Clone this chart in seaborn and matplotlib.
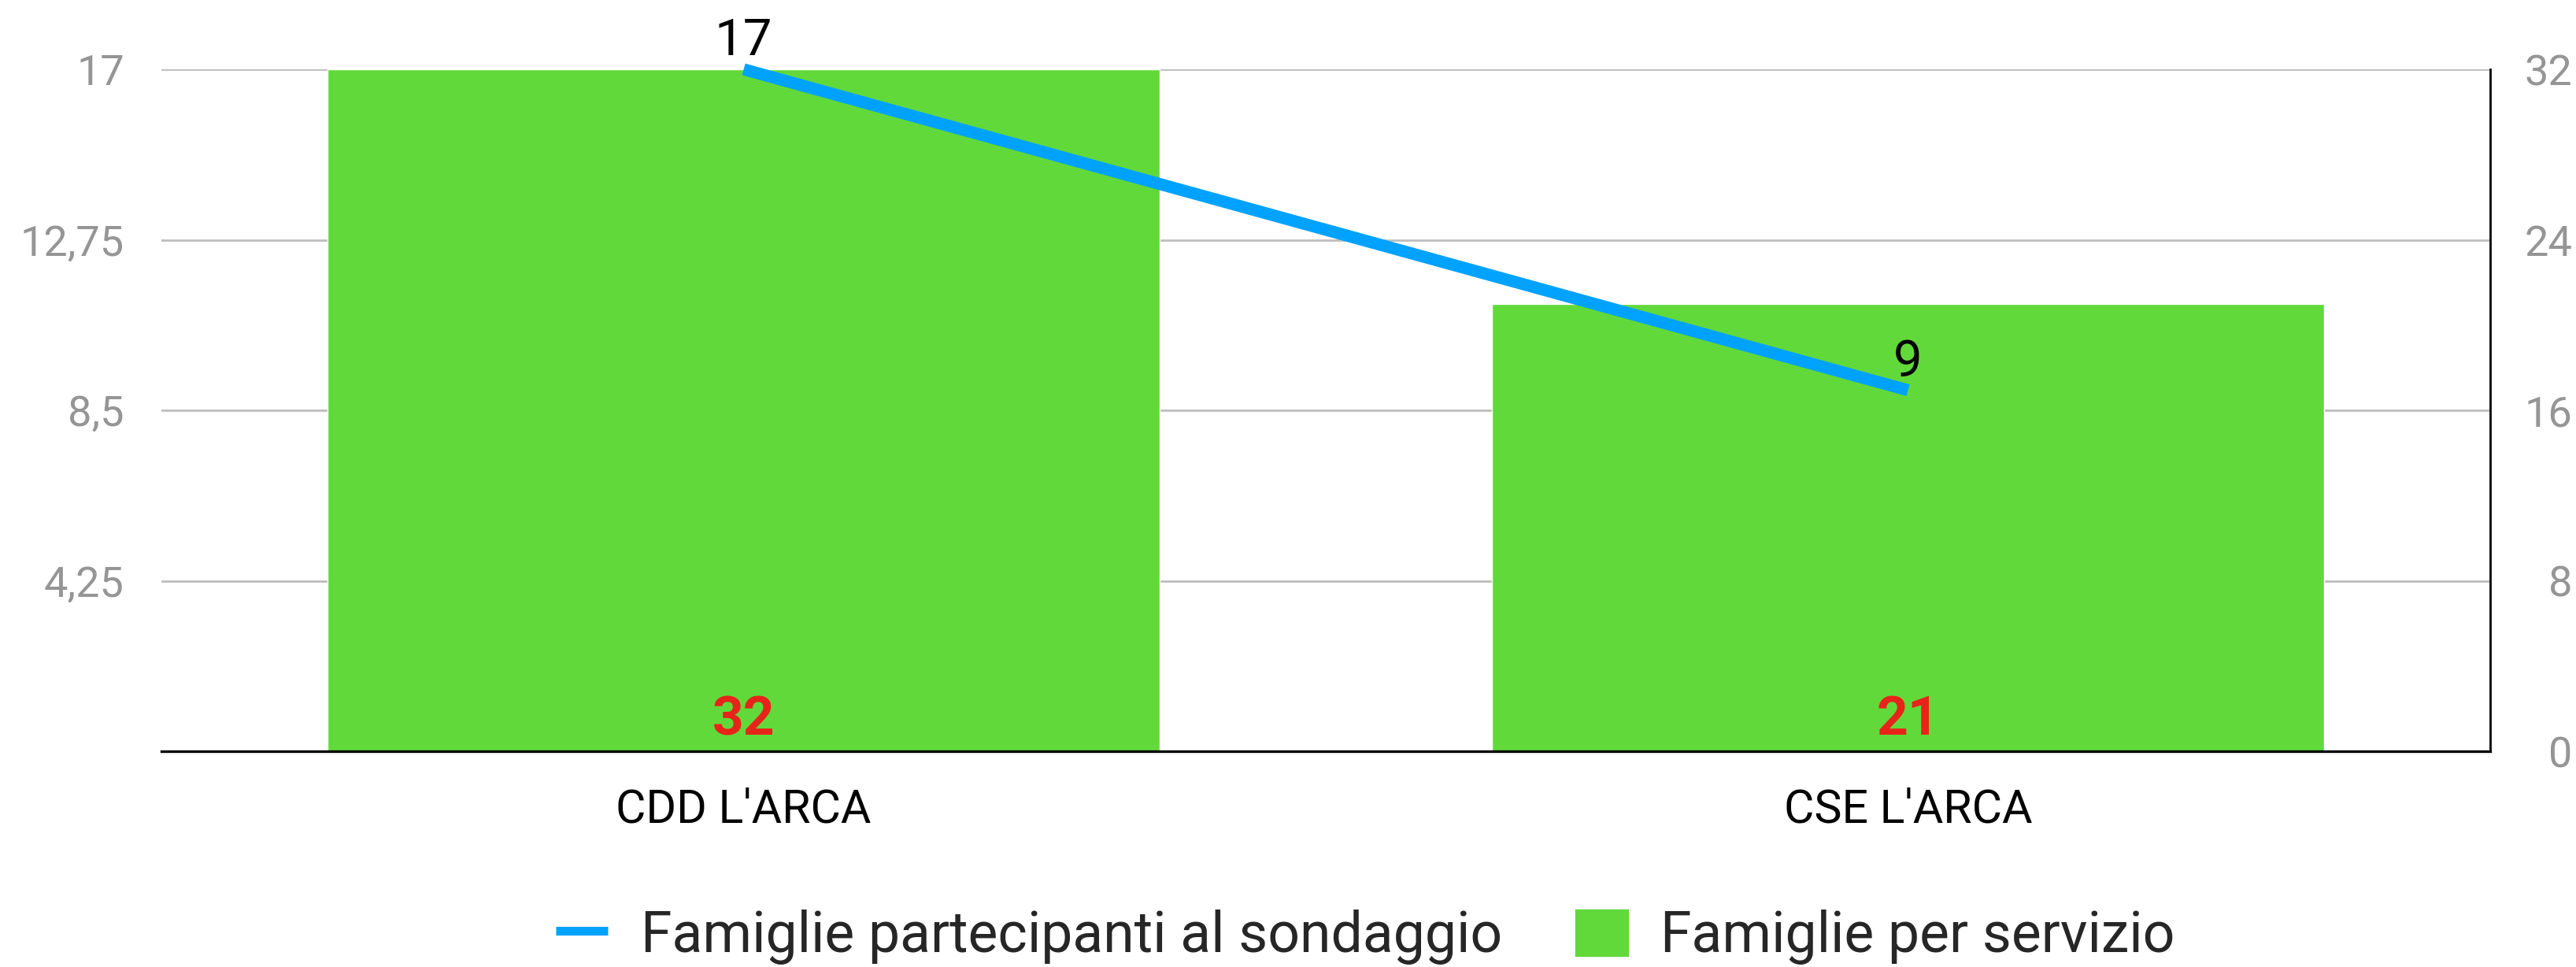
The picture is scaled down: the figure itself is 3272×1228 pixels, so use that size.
import matplotlib
matplotlib.use('Agg')
import matplotlib.pyplot as plt
import seaborn as sns
import pandas as pd
from matplotlib.lines import Line2D
from matplotlib.patches import Patch

# dati
servizi = ["CDD L'ARCA", "CSE L'ARCA"]
famiglie_servizio = [32, 21]
famiglie_partecipanti = [17, 9]
ticks_sx = [4.25, 8.5, 12.75, 17]
labels_sx = ['4,25', '8,5', '12,75', '17']
ticks_dx = [0, 8, 16, 24, 32]

VERDE = '#62D93A'
BLU = '#00A2FF'
ROSSO = '#E8231A'
GRIGIO = '#959595'

sns.set_theme(style='white')
plt.rcParams['font.family'] = ['Roboto', 'DejaVu Sans']

df = pd.DataFrame({
    'servizio': servizi,
    'pos': range(len(servizi)),
    'famiglie_servizio': famiglie_servizio,
    'partecipanti': famiglie_partecipanti,
})

fig = plt.figure(figsize=(32.72, 12.28), dpi=100)
ax = fig.add_axes([0.0627, 0.2231, 0.904, 0.7052])

# barre sull'asse destro
sns.barplot(data=df, x='servizio', y='famiglie_servizio', color=VERDE,
            saturation=1, width=0.715, ax=ax)
ax.set_xlim(-0.5, 1.5)
ax.set_ylim(0, 32)

ax2 = ax.twinx()
sns.lineplot(data=df, x='pos', y='partecipanti', ax=ax2, color=BLU,
             lw=11, solid_capstyle='butt', clip_on=False)
ax2.set_ylim(0, 17)

# assi: barre a destra, linea a sinistra
ax.yaxis.tick_right()
ax.yaxis.set_label_position('right')
ax2.yaxis.tick_left()
ax.set_yticks(ticks_dx)
ax.set_yticklabels([str(t) for t in ticks_dx])
ax2.set_yticks(ticks_sx)
ax2.set_yticklabels(labels_sx)
ax.set_xlabel('')
ax.set_ylabel('')
ax2.set_ylabel('')
ax2.set_xlabel('')

ax.tick_params(axis='x', labelsize=42.5, pad=33, length=0, colors='black')
ax.tick_params(axis='y', labelsize=39, pad=75, length=0, labelcolor=GRIGIO)
for lab in ax.get_yticklabels():
    lab.set_horizontalalignment('right')
ax2.tick_params(axis='y', labelsize=39, pad=34, length=0, labelcolor=GRIGIO)

ax.yaxis.grid(True, color='#BDBDBD', lw=2)
ax.set_axisbelow(True)

for s in ['top', 'left']:
    ax.spines[s].set_visible(False)
ax.spines['bottom'].set_color('black')
ax.spines['bottom'].set_linewidth(2.4)
ax.spines['right'].set_color('black')
ax.spines['right'].set_linewidth(2)
for s in ax2.spines.values():
    s.set_visible(False)

# etichette dei valori
for i, v in enumerate(famiglie_partecipanti):
    ax2.annotate(str(v), (i, v), xytext=(0, 13), textcoords='offset points',
                 ha='center', va='baseline', fontsize=47, color='black',
                 annotation_clip=False)
for i, v in enumerate(famiglie_servizio):
    ax.annotate(str(v), (i, 0), xytext=(0, 15), textcoords='offset points',
                ha='center', va='baseline', fontsize=50, fontweight='bold',
                color=ROSSO)

if ax2.get_legend() is not None:
    ax2.get_legend().remove()

handles = [Line2D([], [], color=BLU, lw=8, solid_capstyle='butt'),
           Patch(color=VERDE)]
fig.legend(handles, ['Famiglie partecipanti al sondaggio', 'Famiglie per servizio'],
           loc='center', bbox_to_anchor=(0.53, 0.031), ncol=2, frameon=False,
           fontsize=51.5, handlelength=0.93, handleheight=0.9, handletextpad=0.58,
           columnspacing=1.3, borderpad=0)

fig.savefig('out.png', dpi=100)
